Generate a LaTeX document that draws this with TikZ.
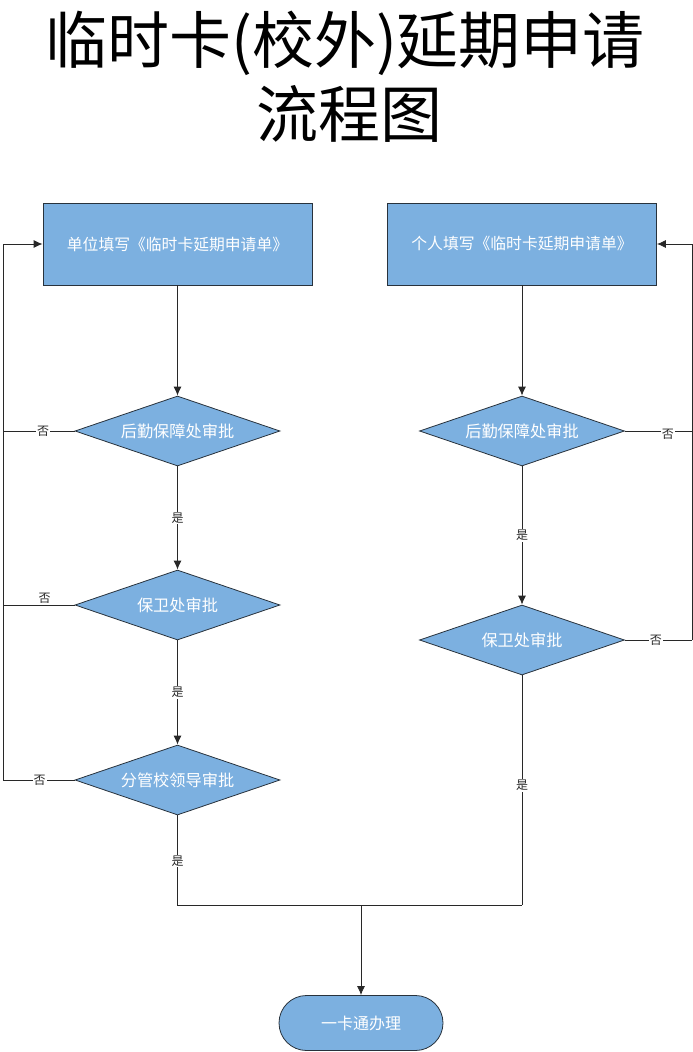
\documentclass[tikz,border=0pt]{standalone}
\usepackage{fontspec}
\setmainfont{Noto Sans CJK SC}
\usetikzlibrary{shapes.geometric,arrows.meta}
\definecolor{boxblue}{RGB}{124,176,224}
\definecolor{edgecol}{RGB}{40,50,60}
\definecolor{linecol}{RGB}{40,40,40}
\tikzset{
  procbox/.style={draw=edgecol, line width=0.8pt, fill=boxblue, minimum width=269pt, minimum height=82pt, inner sep=0pt, text=white, font=\fontsize{15.8}{18}\selectfont},
  decide/.style={draw=edgecol, line width=0.8pt, fill=boxblue, diamond, aspect=2.93, minimum width=205pt, minimum height=70pt, inner sep=0pt, text=white, font=\fontsize{16.2}{18}\selectfont},
  termin/.style={draw=edgecol, line width=0.8pt, fill=boxblue, rounded corners=27.5pt, minimum width=164pt, minimum height=55pt, inner sep=0pt, text=white, font=\fontsize{16}{18}\selectfont},
  conn/.style={draw=linecol, line width=0.8pt},
  arr/.style={conn, -{Latex[length=9pt,width=8pt]}},
  lab/.style={fill=white, inner sep=1pt, text=linecol, font=\fontsize{12}{13}\selectfont},
  titl/.style={font=\fontsize{62}{70}\selectfont, inner sep=0pt}
}
\begin{document}
\begin{tikzpicture}[x=1pt,y=-1pt]
\useasboundingbox (0,0) rectangle (693,1052);
\fill[white] (0,0) rectangle (693,1052);
% title
\node[titl] (t1) at (345,43) {临时卡(校外)延期申请};
\node[titl] (t2) at (349,114) {流程图};
% left column
\node[procbox] (lb) at (177.5,244) {单位填写《临时卡延期申请单》};
\node[decide] (ld1) at (177.5,431) {后勤保障处审批};
\node[decide] (ld2) at (177.5,605) {保卫处审批};
\node[decide] (ld3) at (177.5,780) {分管校领导审批};
% right column
\node[procbox] (rb) at (522,244) {个人填写《临时卡延期申请单》};
\node[decide] (rd1) at (522,431) {后勤保障处审批};
\node[decide] (rd2) at (522,640) {保卫处审批};
% terminator
\node[termin] (end) at (361,1023) {一卡通办理};
% corner coordinates
\coordinate (lx1) at (3,431);
\coordinate (lx2) at (3,605);
\coordinate (lx3) at (3,780);
\coordinate (ltop) at (3,244);
\coordinate (rx1) at (692,431);
\coordinate (rx2) at (692,640);
\coordinate (rtop) at (692,244);
\coordinate (lbot) at (177.5,905);
\coordinate (rbot) at (522,905);
\coordinate (mbot) at (361,905);
% main flow left
\draw[arr] (lb) -- (ld1);
\draw[arr] (ld1) -- node[lab, pos=0.5] {是} (ld2);
\draw[arr] (ld2) -- node[lab, pos=0.5] {是} (ld3);
% main flow right
\draw[arr] (rb) -- (rd1);
\draw[arr] (rd1) -- node[lab, pos=0.5] {是} (rd2);
% rejections left
\draw[conn] (ld1.west) -- node[lab, pos=0.44] {否} (lx1);
\draw[conn] (ld2.west) -- node[lab, pos=0.42, yshift=7pt, fill=none] {否} (lx2);
\draw[conn] (ld3.west) -- node[lab, pos=0.49] {否} (lx3);
\draw[arr] (lx3) -- (ltop) -- (lb.west);
% rejections right
\draw[conn] (rd1.east) -- node[lab, pos=0.64, yshift=-3pt] {否} (rx1);
\draw[conn] (rd2.east) -- node[lab, pos=0.46] {否} (rx2);
\draw[arr] (rx2) -- (rtop) -- (rb.east);
% merge to end
\draw[conn] (ld3.south) -- node[lab, pos=0.51] {是} (lbot) -- (rbot);
\draw[conn] (rd2.south) -- node[lab, pos=0.48] {是} (rbot);
\draw[arr] (mbot) -- (end.north);
\end{tikzpicture}
\end{document}
